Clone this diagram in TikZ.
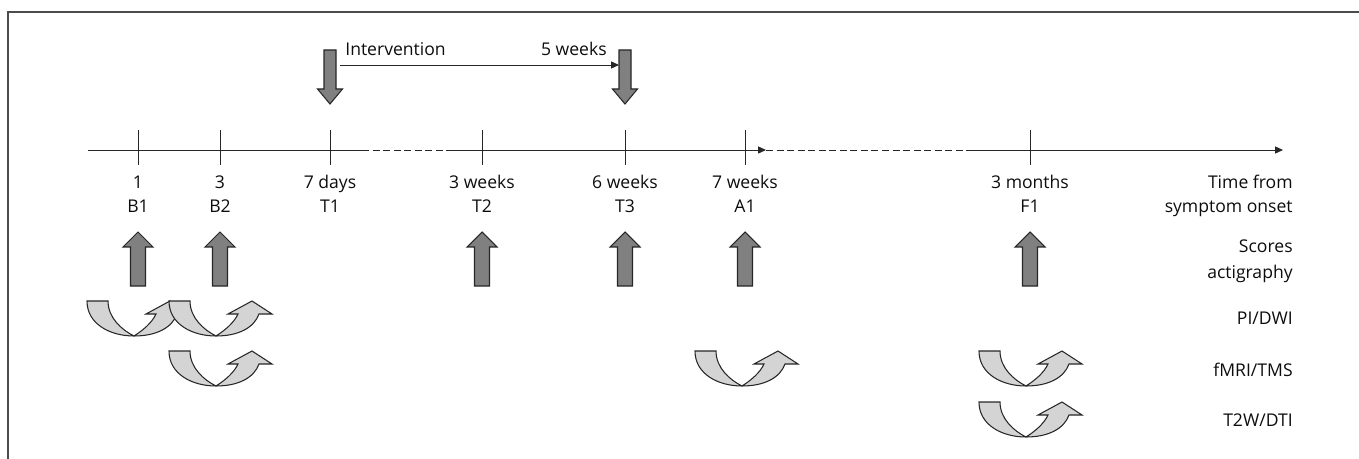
\documentclass[tikz,border=0pt]{standalone}
\usepackage{fontspec}
\setmainfont{Open Sans}
\usetikzlibrary{arrows.meta}

\begin{document}
\begin{tikzpicture}[x=0.02cm,y=-0.02cm,
  lbl/.style={font=\fontsize{10}{12}\selectfont,text=black!95,inner sep=0pt,anchor=base},
  rlbl/.style={lbl,anchor=base east},
  axis/.style={draw=black!85,line width=0.5pt},
  tip/.style={-{Triangle[length=4.5pt,width=4pt]}},
  darkarr/.style={fill=black!50,draw=black!85,line width=0.6pt,line join=miter},
  lightarr/.style={fill=black!17,draw=black!85,line width=0.6pt,line join=miter}]

\useasboundingbox (0,0) rectangle (1359,459);
\draw[black!70,line width=0.9pt] (1359,12) -- (8,12) -- (8,459);

% time axis
\coordinate (start) at (88,150);
\coordinate (gapa) at (362,150);
\coordinate (gapb) at (450,150);
\coordinate (gapc) at (766,150);
\coordinate (gapd) at (966,150);
\coordinate (stop) at (1283,150);
\draw[axis] (start) -- (gapa);
\draw[axis,dash pattern=on 4pt off 2pt] (gapa) -- (gapb);
\draw[axis,tip] (gapb) -- (gapc);
\draw[axis,dash pattern=on 4pt off 2pt] (gapc) -- (gapd);
\draw[axis,tip] (gapd) -- (stop);

\foreach \x/\name/\when/\code in {138/b1/1/B1, 220/b2/3/B2, 330/t1/7 days/T1,
    482/t2/3 weeks/T2, 625/t3/6 weeks/T3, 745/a1/7 weeks/A1, 1030/f1/3 months/F1} {
  \coordinate (\name) at (\x,150);
  \draw[axis] (\x,130) -- (\x,165);
  \node[lbl] (\name-when) at (\x,189) {\when};
  \node[lbl] (\name-code) at (\x,213) {\code};
}
\node[rlbl] (timefrom) at (1293,189) {Time from};
\node[rlbl] (onset) at (1293,213) {symptom onset};

% intervention
\foreach \x in {330,625}
  \draw[darkarr] (\x-6,50) -- (\x+6,50) -- (\x+6,89) -- (\x+12.5,89) -- (\x,104)
    -- (\x-12.5,89) -- (\x-6,89) -- cycle;
\coordinate (ivstart) at (340,65);
\coordinate (ivend) at (619,65);
\draw[axis,tip] (ivstart) -- (ivend);
\node[lbl,anchor=base west] (interv) at (345,56) {Intervention};
\node[lbl,anchor=base east] (fiveweeks) at (607,56) {5 weeks};

% scores / actigraphy
\foreach \x in {138,220,482,625,745,1030}
  \draw[darkarr] (\x-7.5,286) -- (\x-7.5,247) -- (\x-15,247) -- (\x,232) -- (\x+15,247)
    -- (\x+7.5,247) -- (\x+7.5,286) -- cycle;
\node[rlbl] (scores) at (1293,253) {Scores};
\node[rlbl] (actig) at (1293,278) {actigraphy};

% imaging sessions
\foreach \x/\y in {134/336, 216/336, 216/386, 742/386, 1026/386, 1026/437}
  \draw[lightarr,shift={(\x,\y)}] (-47,-35) -- (-26,-35) .. controls (-26,-18) and (-12,-6) .. (0,0)
    .. controls (8,-5) and (18,-13) .. (22,-22) -- (12,-22) -- (36,-35) -- (56,-22) -- (43,-22)
    .. controls (38,-8) and (22,0) .. (0,0) .. controls (-24,0) and (-47,-12) .. cycle;
\node[rlbl] (pidwi) at (1293,324) {PI/DWI};
\node[rlbl] (fmri) at (1293,376) {fMRI/TMS};
\node[rlbl] (t2w) at (1293,426) {T2W/DTI};
\end{tikzpicture}
\end{document}
